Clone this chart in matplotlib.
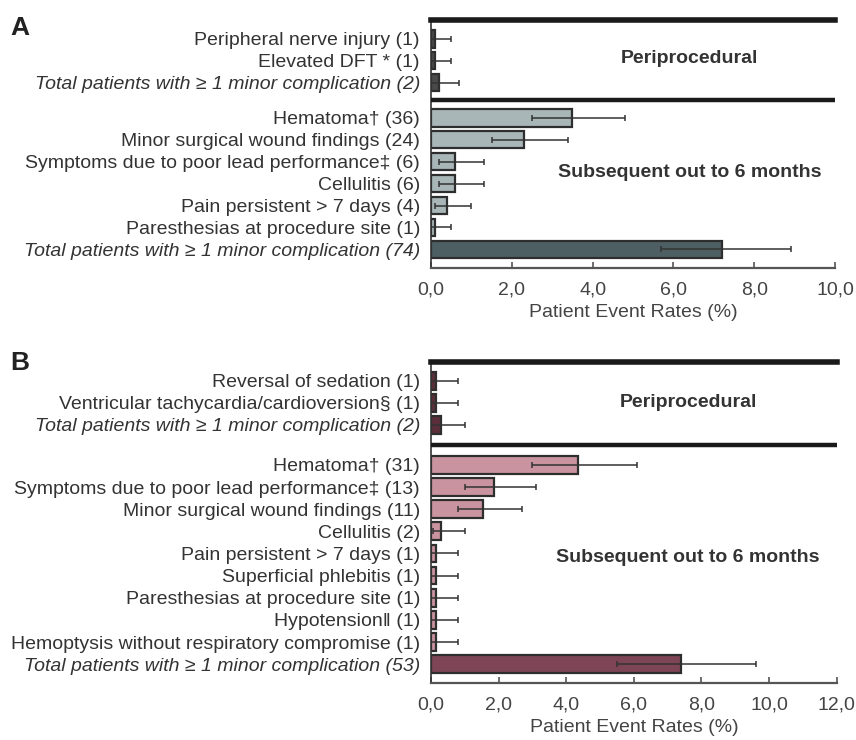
import numpy as np
from matplotlib import pyplot as plt

plt.rcParams['font.family'] = ['Liberation Sans', 'DejaVu Sans']

# ---- panel A data (%), counts in labels
a_peri_labels = ["Peripheral nerve injury (1)", "Elevated DFT * (1)",
                 "Total patients with \u2265 1 minor complication (2)"]
a_peri_vals = [0.1, 0.1, 0.2]
a_peri_lo = [0.0, 0.0, 0.0]
a_peri_hi = [0.5, 0.5, 0.7]

a_sub_labels = ["Hematoma\u2020 (36)", "Minor surgical wound findings (24)",
                "Symptoms due to poor lead performance\u2021 (6)", "Cellulitis (6)",
                "Pain persistent > 7 days (4)", "Paresthesias at procedure site (1)",
                "Total patients with \u2265 1 minor complication (74)"]
a_sub_vals = [3.5, 2.3, 0.6, 0.6, 0.4, 0.1, 7.2]
a_sub_lo = [2.5, 1.5, 0.2, 0.2, 0.1, 0.0, 5.7]
a_sub_hi = [4.8, 3.4, 1.3, 1.3, 1.0, 0.5, 8.9]

# ---- panel B data
b_peri_labels = ["Reversal of sedation (1)", "Ventricular tachycardia/cardioversion\u00a7 (1)",
                 "Total patients with \u2265 1 minor complication (2)"]
b_peri_vals = [0.14, 0.14, 0.3]
b_peri_lo = [0.0, 0.0, 0.0]
b_peri_hi = [0.8, 0.8, 1.0]

b_sub_labels = ["Hematoma\u2020 (31)", "Symptoms due to poor lead performance\u2021 (13)",
                "Minor surgical wound findings (11)", "Cellulitis (2)",
                "Pain persistent > 7 days (1)", "Superficial phlebitis (1)",
                "Paresthesias at procedure site (1)", "Hypotension\u2016 (1)",
                "Hemoptysis without respiratory compromise (1)",
                "Total patients with \u2265 1 minor complication (53)"]
b_sub_vals = [4.35, 1.85, 1.55, 0.3, 0.14, 0.14, 0.14, 0.14, 0.14, 7.4]
b_sub_lo = [3.0, 1.0, 0.8, 0.05, 0.0, 0.0, 0.0, 0.0, 0.0, 5.5]
b_sub_hi = [6.1, 3.1, 2.7, 1.0, 0.8, 0.8, 0.8, 0.8, 0.8, 9.6]


def panel(ax, peri, sub, gap, colors, xmax, txt_x, txt_y):
    pl, pv, plo, phi = peri
    sl, sv, slo, shi = sub
    y_peri = np.arange(len(pl))
    y_sub = len(pl) - 1 + gap + np.arange(len(sl))
    y = np.concatenate([y_peri, y_sub])
    vals = np.array(pv + sv)
    lo = np.array(plo + slo)
    hi = np.array(phi + shi)
    labels = pl + sl

    fc = [colors[0]] * len(pl) + [colors[1]] * (len(sl) - 1) + [colors[2]]
    ax.barh(y, vals, height=0.8, color=fc, edgecolor='#2e2e2e', lw=1.6, zorder=2)
    ax.errorbar(vals, y, xerr=[vals - lo, hi - vals], fmt='none', ecolor='#333333',
                elinewidth=1.1, capsize=2.5, capthick=1.1, zorder=3)

    top = -0.85
    bottom = y[-1] + 0.85
    ax.set_ylim(bottom, top)
    ax.set_xlim(0, xmax)
    ax.axhline(top, color='#1a1a1a', lw=4, zorder=4, clip_on=False)
    ax.axhline((y_peri[-1] + y_sub[0]) / 2, color='#1a1a1a', lw=3.2, zorder=4)

    ax.set_yticks(y)
    ax.set_yticklabels(labels, fontsize=14, color='#333333')
    for i in [len(pl) - 1, len(labels) - 1]:
        ax.get_yticklabels()[i].set_style('italic')
    ax.tick_params(axis='y', length=0, pad=8)

    ticks = np.arange(0, xmax + 0.1, 2)
    ax.set_xticks(ticks)
    ax.set_xticklabels([('%.1f' % t).replace('.', ',') for t in ticks],
                       fontsize=14, color='#444444')
    ax.tick_params(axis='x', direction='in', length=4, width=1.2, color='#555555', pad=10)
    ax.set_xlabel('Patient Event Rates (%)', fontsize=14, color='#444444', labelpad=4)

    for s in ['top', 'right']:
        ax.spines[s].set_visible(False)
    ax.spines['left'].set_color('#333333')
    ax.spines['left'].set_linewidth(1.2)
    ax.spines['bottom'].set_color('#555555')
    ax.spines['bottom'].set_linewidth(1.6)

    ax.text(txt_x, txt_y[0], 'Periprocedural', fontsize=14, fontweight='bold',
            color='#333333', ha='center', va='center')
    ax.text(txt_x, txt_y[1], 'Subsequent out to 6 months', fontsize=14,
            fontweight='bold', color='#333333', ha='center', va='center')


fig = plt.figure(figsize=(8.56, 7.40), dpi=100)
ax1 = fig.add_axes([0.5035, 0.6378, 0.472, 0.335])
ax2 = fig.add_axes([0.5035, 0.0770, 0.474, 0.434])

panel(ax1, (a_peri_labels, a_peri_vals, a_peri_lo, a_peri_hi),
      (a_sub_labels, a_sub_vals, a_sub_lo, a_sub_hi), 1.6,
      ['#4a4a4a', '#a8b6b8', '#4e5f63'], 10, 6.4, (0.9, 6.1))
panel(ax2, (b_peri_labels, b_peri_vals, b_peri_lo, b_peri_hi),
      (b_sub_labels, b_sub_vals, b_sub_lo, b_sub_hi), 1.8,
      ['#5a2e3a', '#c9939f', '#7d4556'], 12, 7.6, (1.0, 8.0))

fig.text(0.012, 0.962, 'A', fontsize=19, fontweight='bold', color='#222222', va='center')
fig.text(0.012, 0.510, 'B', fontsize=19, fontweight='bold', color='#222222', va='center')

plt.savefig('out.png', dpi=100)
